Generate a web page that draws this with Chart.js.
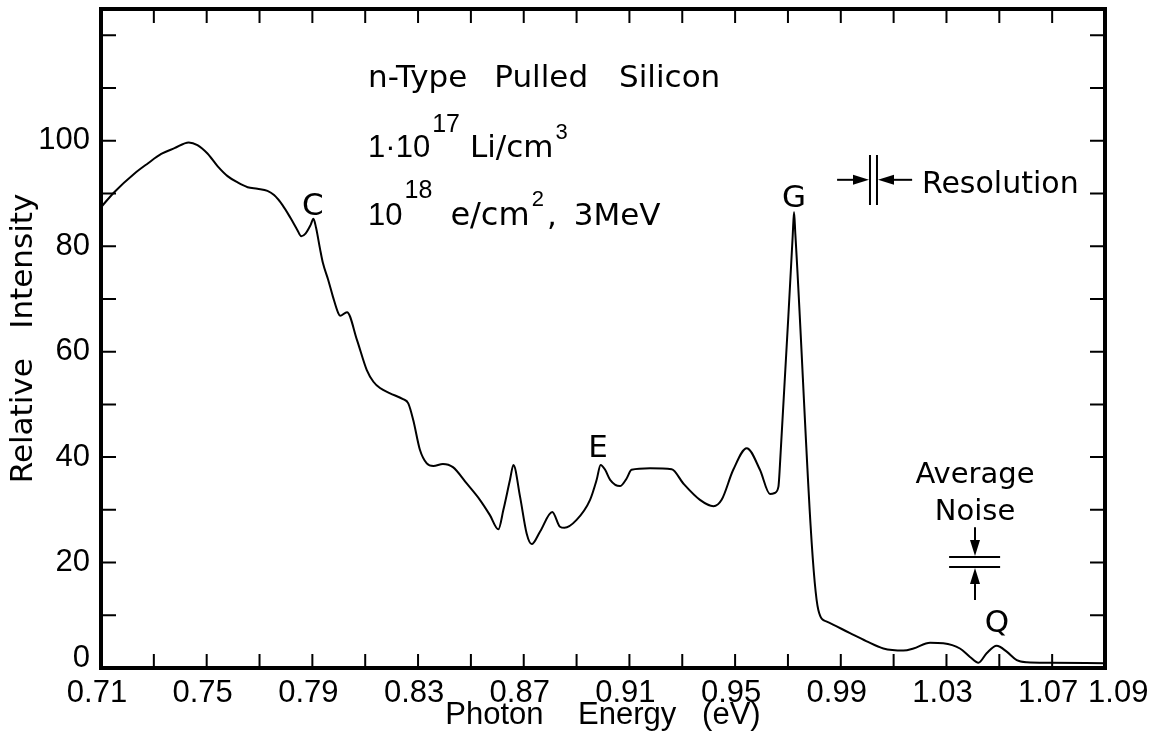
<!DOCTYPE html>
<html>
<head>
<meta charset="utf-8">
<title>Photoluminescence spectrum, n-type pulled silicon</title>
<script src="https://cdn.jsdelivr.net/npm/chart.js@4.4.1/dist/chart.umd.min.js"></script>
<style>
  html, body { margin: 0; padding: 0; background: #fff; }
  canvas { display: block; }
</style>
</head>
<body>
<canvas id="spectrum" width="1158" height="750"></canvas>
<script>
// Photon energy (eV) and relative intensity of the measured spectrum
const energyEv = [
  0.7100, 0.7151, 0.7227, 0.7277, 0.7328, 0.7378, 0.7432, 0.7465, 0.7503, 0.7541,
  0.7579, 0.7617, 0.7655, 0.7692, 0.7730, 0.7755, 0.7787, 0.7818, 0.7843, 0.7858,
  0.7874, 0.7893, 0.7904, 0.7914, 0.7929, 0.7940, 0.7960, 0.7978, 0.7998, 0.8005,
  0.8031, 0.8069, 0.8106, 0.8131, 0.8156, 0.8194, 0.8243, 0.8263, 0.8282, 0.8307,
  0.8333, 0.8358, 0.8394, 0.8432, 0.8484, 0.8534, 0.8572, 0.8604, 0.8623, 0.8648,
  0.8661, 0.8686, 0.8711, 0.8730, 0.8762, 0.8808, 0.8837, 0.8854, 0.8900, 0.8951,
  0.8976, 0.8991, 0.9008, 0.9027, 0.9064, 0.9090, 0.9108, 0.9178, 0.9260, 0.9304,
  0.9367, 0.9418, 0.9449, 0.9493, 0.9544, 0.9594, 0.9632, 0.9650, 0.9664, 0.9668,
  0.9718, 0.9723, 0.9728, 0.9815, 0.9847, 0.9935, 0.9996, 1.0061, 1.0137, 1.0175,
  1.0238, 1.0288, 1.0351, 1.0389, 1.0421, 1.0452, 1.0490, 1.0528, 1.0566, 1.0604,
  1.0692, 1.0900
];
const intensity = [
  87.4, 90.3, 93.8, 95.7, 97.5, 98.6, 99.7, 99.2, 97.6, 95.2,
  93.3, 92.1, 91.2, 90.9, 90.5, 89.7, 87.8, 85.3, 83.1, 81.9,
  82.4, 84.0, 85.2, 83.5, 79.5, 76.8, 73.6, 70.4, 67.3, 66.8,
  67.5, 62.2, 56.5, 54.3, 53.1, 52.1, 51.0, 50.2, 47.0, 41.4,
  38.8, 38.3, 38.7, 38.1, 35.0, 31.9, 29.0, 26.3, 30.0, 35.7,
  38.5, 32.5, 25.5, 23.5, 25.9, 29.6, 26.8, 26.6, 28.1, 31.9,
  35.7, 38.5, 37.6, 35.7, 34.5, 36.0, 37.6, 37.9, 37.7, 35.0,
  31.9, 30.7, 31.9, 37.6, 41.7, 37.6, 33.0, 33.2, 34.4, 37.0,
  82.0, 86.5, 82.3, 11.0, 8.8, 6.6, 5.1, 3.7, 3.3, 3.7,
  4.8, 4.7, 3.7, 2.1, 1.0, 2.8, 4.2, 3.1, 1.5, 1.1,
  1.0, 0.9
];

// Axis ticks
const xTickValues = [0.71, 0.75, 0.79, 0.83, 0.87, 0.91, 0.95, 0.99, 1.03, 1.07, 1.09];
const xTickLabels = ['0.71', '0.75', '0.79', '0.83', '0.87', '0.91', '0.95', '0.99', '1.03', '1.07', '1.09'];
const yTickValues = [0, 20, 40, 60, 80, 100];
const yTickLabels = ['0', '20', '40', '60', '80', '100'];
const xMarkValues = [0.73, 0.75, 0.77, 0.79, 0.81, 0.83, 0.85, 0.87, 0.89, 0.91,
                     0.93, 0.95, 0.97, 0.99, 1.01, 1.03, 1.05, 1.07];
const yMarkValues = [10, 20, 30, 40, 50, 60, 70, 80, 90, 100, 110, 120];

// Line names marked on the spectrum
const peakNames = ['C', 'E', 'G', 'Q'];

const NUM_FONT = '"Liberation Sans", Arial, sans-serif';
const TXT_FONT = '"DejaVu Sans", "Noto Sans", sans-serif';

const notesPlugin = {
  id: 'frameAndNotes',
  afterDraw(chart) {
    const { ctx, chartArea: a } = chart;
    const sx = chart.scales.x, sy = chart.scales.y;
    const px = v => sx.getPixelForValue(v);
    const py = v => sy.getPixelForValue(v);

    ctx.save();
    ctx.strokeStyle = '#000';
    ctx.fillStyle = '#000';
    ctx.lineCap = 'butt';

    // inward tick marks on all four sides
    ctx.lineWidth = 2;
    ctx.beginPath();
    xMarkValues.forEach(v => {
      const p = px(v);
      ctx.moveTo(p, a.bottom); ctx.lineTo(p, a.bottom - 14);
      ctx.moveTo(p, a.top); ctx.lineTo(p, a.top + 14);
    });
    yMarkValues.forEach(v => {
      const p = py(v);
      ctx.moveTo(a.left, p); ctx.lineTo(a.left + 15, p);
      ctx.moveTo(a.right, p); ctx.lineTo(a.right - 15, p);
    });
    ctx.stroke();

    // plot frame
    ctx.lineWidth = 4;
    ctx.strokeRect(a.left, a.top, a.right - a.left, a.bottom - a.top);

    const put = (str, xv, yv, font, align) => {
      ctx.font = font;
      ctx.textAlign = align || 'left';
      ctx.textBaseline = 'alphabetic';
      ctx.fillText(str, px(xv), py(yv));
    };

    // peak letters
    const peakSpots = [[0.7902, 85.9], [0.8981, 40.0], [0.9723, 87.4], [1.0491, 6.8]];
    peakNames.forEach((n, i) => put(n, peakSpots[i][0], peakSpots[i][1], '31px ' + TXT_FONT, 'center'));

    // sample description, drawn as runs so exponents can be raised
    const runLine = (xv, yv, runs) => {
      let x = px(xv);
      const base = py(yv);
      ctx.textAlign = 'left';
      ctx.textBaseline = 'alphabetic';
      runs.forEach(r => {
        x += r.gap || 0;
        ctx.font = r.font;
        ctx.fillText(r.t, x, base - (r.rise || 0));
        x += ctx.measureText(r.t).width;
      });
    };
    runLine(0.8111, 110.2, [
      { t: 'n-Type', font: '31px ' + TXT_FONT },
      { t: 'Pulled', font: '31px ' + TXT_FONT, gap: 27 },
      { t: 'Silicon', font: '31px ' + TXT_FONT, gap: 31 }
    ]);
    runLine(0.8111, 96.9, [
      { t: '1\u00B710', font: '31px ' + NUM_FONT },
      { t: '17', font: '25px ' + NUM_FONT, rise: 25, gap: 2 },
      { t: 'Li/cm', font: '31px ' + TXT_FONT, gap: 10 },
      { t: '3', font: '22px ' + NUM_FONT, rise: 18, gap: 2 }
    ]);
    runLine(0.8111, 84.0, [
      { t: '10', font: '31px ' + NUM_FONT },
      { t: '18', font: '25px ' + NUM_FONT, rise: 27, gap: 2 },
      { t: 'e/cm', font: '32px ' + TXT_FONT, gap: 18 },
      { t: '2', font: '22px ' + NUM_FONT, rise: 19, gap: 2 },
      { t: ',', font: '31px ' + TXT_FONT, gap: 3 },
      { t: '3MeV', font: '31px ' + TXT_FONT, gap: 17 }
    ]);

    // filled arrow ending at (x2, y2), pixel coordinates
    const arrow = (x1, y1, x2, y2) => {
      const ang = Math.atan2(y2 - y1, x2 - x1);
      const len = 16, half = 5;
      const bx = x2 - len * Math.cos(ang), by = y2 - len * Math.sin(ang);
      ctx.lineWidth = 2;
      ctx.beginPath(); ctx.moveTo(x1, y1); ctx.lineTo(bx, by); ctx.stroke();
      ctx.beginPath();
      ctx.moveTo(x2, y2);
      ctx.lineTo(bx - half * Math.sin(ang), by + half * Math.cos(ang));
      ctx.lineTo(bx + half * Math.sin(ang), by - half * Math.cos(ang));
      ctx.closePath(); ctx.fill();
    };

    // spectral resolution marker
    ctx.lineWidth = 2;
    ctx.beginPath();
    [1.00105, 1.00370].forEach(v => {
      ctx.moveTo(px(v), py(97.3)); ctx.lineTo(px(v), py(87.8));
    });
    ctx.stroke();
    arrow(px(0.9886), py(92.6), px(1.00105) - 1, py(92.6));
    arrow(px(1.0170), py(92.6), px(1.00370) + 1, py(92.6));
    put('Resolution', 1.0207, 90.1, '30px ' + TXT_FONT, 'left');

    // average noise marker
    put('Average', 1.0408, 35.1, '29px ' + TXT_FONT, 'center');
    put('Noise', 1.0408, 28.1, '29px ' + TXT_FONT, 'center');
    ctx.lineWidth = 2;
    ctx.beginPath();
    [21.05, 19.15].forEach(v => {
      ctx.moveTo(px(1.0310), py(v)); ctx.lineTo(px(1.0503), py(v));
    });
    ctx.stroke();
    arrow(px(1.0408), py(26.7), px(1.0408), py(21.05) - 1);
    arrow(px(1.0408), py(12.9), px(1.0408), py(19.15) + 1);

    ctx.restore();
  }
};

new Chart(document.getElementById('spectrum'), {
  type: 'line',
  data: {
    datasets: [{
      data: energyEv.map((e, i) => ({ x: e, y: intensity[i] })),
      borderColor: '#000',
      borderWidth: 2,
      pointRadius: 0,
      fill: false,
      cubicInterpolationMode: 'monotone'
    }]
  },
  options: {
    responsive: false,
    animation: false,
    events: [],
    layout: { padding: { top: 9, right: 53, left: 0, bottom: 0 } },
    plugins: { legend: { display: false }, tooltip: { enabled: false } },
    scales: {
      x: {
        type: 'linear',
        min: 0.71,
        max: 1.09,
        afterBuildTicks: s => { s.ticks = xTickValues.map(v => ({ value: v })); },
        afterFit: s => { s.height = 82; s.paddingLeft = 0; s.paddingRight = 0; },
        grid: { display: false, drawTicks: false },
        border: { display: false },
        ticks: {
          autoSkip: false,
          maxRotation: 0,
          minRotation: 0,
          color: '#000',
          padding: 7,
          labelOffset: -4,
          font: { family: NUM_FONT, size: 31 },
          callback: (v, i) => (i === xTickLabels.length - 1 ? '    ' : '') + xTickLabels[i]
        },
        title: {
          display: true,
          text: 'Photon    Energy   (eV)',
          color: '#000',
          font: { family: NUM_FONT, size: 31 },
          padding: { top: 0, bottom: 16 }
        }
      },
      y: {
        min: 0,
        max: 125,
        afterBuildTicks: s => { s.ticks = yTickValues.map(v => ({ value: v })); },
        afterFit: s => { s.width = 101; s.paddingTop = 0; s.paddingBottom = 0; },
        grid: { display: false, drawTicks: false },
        border: { display: false },
        ticks: {
          autoSkip: false,
          color: '#000',
          padding: 11,
          font: ctx => (ctx.tick && ctx.tick.value === 0)
            ? { family: NUM_FONT, size: 31, lineHeight: '20px' }
            : { family: NUM_FONT, size: 31 },
          callback: (v, i) => (v === 0 ? [yTickLabels[i], ''] : yTickLabels[i])
        },
        title: {
          display: true,
          text: 'Relative   Intensity',
          color: '#000',
          font: { family: TXT_FONT, size: 31 },
          padding: { top: 5, bottom: 0 }
        }
      }
    }
  },
  plugins: [notesPlugin]
});
</script>
</body>
</html>
